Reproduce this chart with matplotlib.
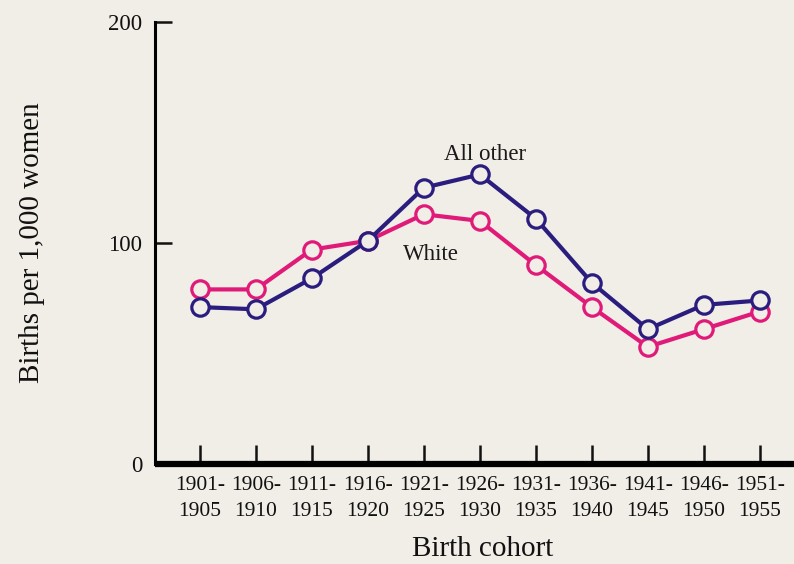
import matplotlib.pyplot as plt

# data
cohorts = ["1901-\n1905", "1906-\n1910", "1911-\n1915", "1916-\n1920", "1921-\n1925",
           "1926-\n1930", "1931-\n1935", "1936-\n1940", "1941-\n1945", "1946-\n1950",
           "1951-\n1955"]
white = [79, 79, 97, 101, 113, 110, 90, 71, 53, 61, 69]
all_other = [71, 70, 84, 101, 125, 131, 111, 82, 61, 72, 74]

paper = "#f1ede7"
pink = "#e01a78"
navy = "#2b1d7e"
plt.rcParams['font.family'] = ['Liberation Serif', 'DejaVu Serif']

fig = plt.figure(figsize=(7.94, 5.64), dpi=100, facecolor=paper)
ax = fig.add_axes([155 / 794, 100 / 564, 639 / 794, 442 / 564])
ax.set_facecolor(paper)

x = list(range(len(cohorts)))
ax.plot(x, white, color=pink, lw=3, marker='o', ms=12.5, mew=2.3,
        mfc=paper, mec=pink, clip_on=False, zorder=3)
ax.plot(x, all_other, color=navy, lw=3, marker='o', ms=12.5, mew=2.3,
        mfc=paper, mec=navy, clip_on=False, zorder=4)

ax.text(5.09, 137.5, "All other", fontsize=16.5, color="#1a1a1a", ha='center', va='baseline')
ax.text(3.62, 92.3, "White", fontsize=16.5, color="#1a1a1a", ha='left', va='baseline')

ax.set_xlim(-0.80, 10.61)
ax.set_ylim(0, 200)
ax.set_xticks(x)
ax.set_xticklabels(cohorts, fontsize=15.5, linespacing=1.45)
ax.set_yticks([0, 100, 200])
ax.set_yticklabels(["0", "100", "200"], fontsize=16.5)

for s in ("top", "right"):
    ax.spines[s].set_visible(False)
ax.spines["left"].set_linewidth(2.2)
ax.spines["bottom"].set_linewidth(4.5)
ax.spines["bottom"].set_capstyle("butt")
ax.tick_params(axis='x', direction='in', length=14, width=1.8, pad=9, colors="#111111")
ax.tick_params(axis='y', direction='in', length=12, width=1.8, pad=9, colors="#111111")
ax.yaxis.get_major_ticks()[0].tick1line.set_visible(False)

ax.set_ylabel("Births per 1,000 women", fontsize=21, color="#111111")
ax.yaxis.set_label_coords(-0.172, 0.50)
ax.set_xlabel("Birth cohort", fontsize=21, color="#111111")
ax.xaxis.set_label_coords(0.512, -0.163)

fig.savefig("out.png", dpi=100, facecolor=paper)
